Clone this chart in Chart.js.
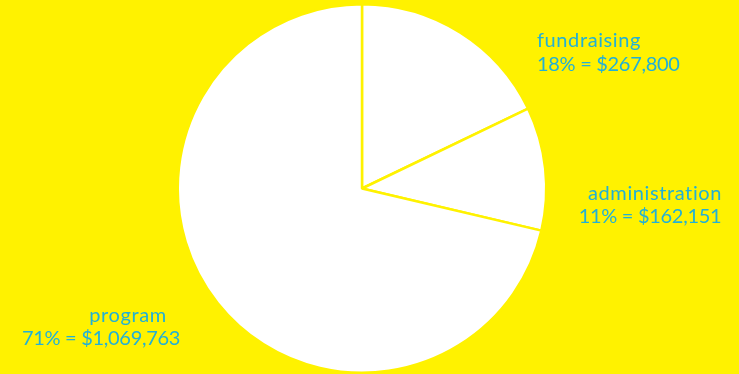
<!DOCTYPE html>
<html lang="en">
<head>
    <meta charset="UTF-8">
    <title>Expenses</title>
    <script src="https://cdn.jsdelivr.net/npm/chart.js"></script>
    <style>
        html, body { margin: 0; padding: 0; background-color: #fff200; }
        #wrap { width: 739px; height: 374px; }
    </style>
</head>
<body>
    <div id="wrap"><canvas id="grafico"></canvas></div>

    <script>
        const categories = ['fundraising', 'administration', 'program'];
        const amounts = [267800, 162151, 1069763];

        const YELLOW = '#fff200';
        const TEXT = '#22b0d6';

        // label placement: anchor x of each line, its alignment, baselines
        const labelPos = [
            { x1: 537, x2: 537, align: 'left', y1: 47, y2: 71 },
            { x1: 655, x2: 650, align: 'center', y1: 200, y2: 223 },
            { x1: 128, x2: 101, align: 'center', y1: 322, y2: 345 }
        ];

        const total = amounts.reduce((a, b) => a + b, 0);

        const labelsPlugin = {
            id: 'sliceLabels',
            afterDraw(chart) {
                const ctx = chart.ctx;
                ctx.save();
                ctx.fillStyle = TEXT;
                ctx.font = '400 20px Lato, sans-serif';
                ctx.textBaseline = 'alphabetic';
                categories.forEach((name, i) => {
                    const pct = Math.round(amounts[i] / total * 100);
                    const line2 = pct + '% = $' + amounts[i].toLocaleString('en-US');
                    const p = labelPos[i];
                    ctx.textAlign = p.align;
                    ctx.letterSpacing = '0.6px';
                    ctx.fillText(name, p.x1, p.y1);
                    ctx.letterSpacing = '-0.3px';
                    ctx.fillText(line2, p.x2, p.y2);
                });
                ctx.restore();
            }
        };

        const ctx = document.getElementById('grafico').getContext('2d');
        const chart = new Chart(ctx, {
            type: 'pie',
            data: {
                labels: categories,
                datasets: [{
                    data: amounts,
                    backgroundColor: '#ffffff',
                    borderColor: YELLOW,
                    borderWidth: 2.5
                }]
            },
            options: {
                responsive: true,
                maintainAspectRatio: false,
                animation: false,
                layout: { padding: { left: 0, right: 15, top: 3, bottom: 0 } },
                plugins: {
                    legend: { display: false },
                    tooltip: { enabled: false }
                }
            },
            plugins: [labelsPlugin]
        });
    </script>
</body>
</html>
